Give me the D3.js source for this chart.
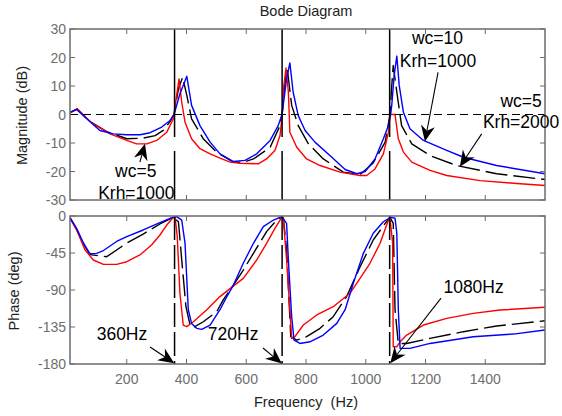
<!DOCTYPE html>
<html>
<head>
<meta charset="utf-8">
<script src="https://cdn.jsdelivr.net/npm/d3@7"></script>
<style>
  html, body { margin: 0; padding: 0; background: #fff; }
  svg { display: block; font-family: "Liberation Sans", Arial, sans-serif; }
</style>
</head>
<body>
<svg id="chart" width="562" height="416"></svg>
<script>
// ---------------- data ----------------
const xTicks = [200, 400, 600, 800, 1000, 1200, 1400];
const magTicks = [-30, -20, -10, 0, 10, 20, 30];
const phaseTicks = [-180, -135, -90, -45, 0];
const markerFreqs = [360, 720, 1080];

// [frequency Hz, magnitude dB]
const magRed = [[10,0.6],[34,2.0],[66,-1.3],[88,-3.3],[144,-6.8],[200,-9.1],[233,-10.3],[267,-10.3],[300,-9.1],[334,-6.2],[356,-1.5],[367,6.7],[375,12.5],[384,4.3],[395,-2.7],[417,-8.5],[445,-12.0],[479,-13.8],[512,-15.3],[546,-16.7],[579,-17.1],[640,-17.3],[668,-15.6],[696,-12.6],[713,-7.4],[720,-0.4],[726,10.2],[733,16.3],[741,7.8],[746,-6.2],[769,-11.5],[802,-15.6],[847,-17.9],[914,-20.2],[981,-21.4],[1003,-21.4],[1031,-19.1],[1059,-13.8],[1076,-6.2],[1081,0],[1098,0],[1109,-8.5],[1126,-13.2],[1154,-16.7],[1215,-19.6],[1271,-21.4],[1383,-23.2],[1494,-24.1],[1600,-24.9]];
const magBlack = [[10,0.6],[34,2.0],[77,-2.5],[133,-6.0],[200,-8.5],[255,-8.3],[295,-7.4],[322,-5.6],[345,-2.5],[358,0],[373,9.0],[387,13.1],[401,6.7],[417,-1.5],[456,-8.5],[501,-13.2],[557,-16.7],[590,-16.8],[624,-15.6],[680,-11.5],[713,-3.9],[720,0],[728,10],[737,16.3],[752,3.2],[774,-3.9],[808,-10.3],[858,-15.6],[925,-20.2],[981,-21.1],[1025,-17.0],[1065,-9.7],[1081,0],[1087,10],[1092,17.2],[1104,7.8],[1120,-3.9],[1154,-10.3],[1215,-14.4],[1304,-17.9],[1438,-20.8],[1600,-22.8]];
const magBlue = [[10,0.8],[32,1.75],[66,-1.5],[110,-5.6],[155,-6.8],[200,-7.1],[244,-7.1],[278,-6.4],[317,-4.4],[345,-2.1],[359,0.2],[378,7.3],[401,13.4],[417,3.2],[445,-3.9],[479,-9.7],[512,-13.8],[557,-16.5],[596,-16.1],[635,-13.8],[680,-9.1],[707,-3.9],[720,0.2],[735,12.5],[746,18.1],[757,7.8],[774,-0.4],[797,-5.6],[830,-9.7],[880,-14.4],[931,-19.3],[970,-20.8],[998,-20.0],[1031,-15.6],[1059,-8.5],[1076,-3.9],[1084,0.6],[1087,3.2],[1095,13.7],[1104,20.5],[1112,10.2],[1126,0.8],[1148,-5.0],[1193,-9.1],[1271,-12.6],[1327,-15.0],[1438,-17.9],[1600,-20.8]];

// [frequency Hz, phase deg]
const phRed = [[10,-2.8],[32,-17],[60,-41],[88,-53.5],[122,-58.8],[166,-58.8],[200,-55.6],[244,-47.4],[283,-35.3],[311,-23.1],[334,-11],[356,-1.6],[362,-2],[369,-25],[378,-94],[389,-132.6],[401,-134.6],[423,-128.6],[468,-114],[512,-98],[551,-86.8],[590,-75.8],[635,-53.5],[668,-33.2],[696,-15],[719,-1.6],[724,-2],[735,-53.5],[746,-114],[752,-148.8],[763,-146.8],[791,-132.6],[836,-120.4],[891,-110.3],[947,-94],[981,-75.8],[1014,-57.5],[1048,-33.2],[1076,-4.9],[1081,-2],[1090,-33],[1092,-159],[1104,-159],[1115,-153],[1137,-144.8],[1193,-132.6],[1271,-124.5],[1360,-118.4],[1449,-114.4],[1600,-111]];
const phBlack = [[10,-2],[32,-16],[60,-37],[77,-47],[133,-49.5],[200,-33],[255,-22],[311,-9.7],[356,-1.6],[373,-7],[384,-53.5],[398,-110],[412,-132.6],[423,-135.5],[456,-128.6],[501,-116.4],[523,-102],[557,-84],[590,-65.7],[624,-45.4],[668,-19],[707,-2.8],[724,-2],[735,-41],[749,-146.8],[769,-150.9],[802,-146.8],[847,-136.6],[891,-122.5],[936,-98],[981,-61.7],[1025,-29.2],[1065,-9],[1081,-1.6],[1092,-9],[1098,-114],[1109,-155],[1137,-155],[1215,-148.8],[1327,-140.7],[1438,-133.8],[1600,-127.4]];
const phBlue = [[10,-2],[32,-15],[55,-33],[77,-46],[99,-45.4],[122,-42],[166,-31],[200,-25],[255,-17],[311,-8],[345,-2.8],[367,-0.8],[384,-5],[395,-33],[406,-114],[417,-130.6],[434,-136.6],[451,-137.9],[479,-132.6],[512,-114],[535,-98],[557,-84],[590,-57.5],[624,-33.2],[657,-13],[691,-4.9],[719,-0.8],[735,-9],[741,-53.5],[752,-122.5],[760,-151],[780,-155],[813,-153],[858,-144.8],[903,-130.6],[931,-114],[958,-82],[992,-45.4],[1025,-21],[1059,-7],[1083,-1.6],[1098,-2.8],[1104,-21],[1109,-114],[1115,-161],[1148,-161],[1215,-155],[1360,-146.8],[1494,-143.6],[1600,-138.7]];

// annotations: text lines at [f, value], arrows [tailF, tailV, tipF, tipV]
const magNotes = [
  {lines: [["wc=5", 230, -22.1], ["Krh=1000", 232, -29.8]], arrow: [244, -16.7, 261, -10.3]},
  {lines: [["wc=10", 1240, 24.6], ["Krh=1000", 1242, 16.8]], arrow: [1242, 14.8, 1198, -9.5]},
  {lines: [["wc=5", 1520, 2.8], ["Krh=2000", 1520, -4.9]], arrow: [1388, -6.8, 1315, -18.3]}
];
const phaseNotes = [
  {lines: [["360Hz", 184, -150.9]], arrow: [278, -159.4, 359, -179]},
  {lines: [["720Hz", 556, -150.9]], arrow: [656, -160.6, 719, -179.5]},
  {lines: [["1080Hz", 1361, -93.7]], arrow: [1252, -99.8, 1082, -179]}
];

// ---------------- layout ----------------
const svg = d3.select("#chart");
const L = 70, R = 545;
const magBox = {top: 29, bottom: 200};
const phBox = {top: 216, bottom: 364};

const x = d3.scaleLinear().domain([10, 1600]).range([L, R]);
const yMag = d3.scaleLinear().domain([-30, 30]).range([magBox.bottom, magBox.top]);
const yPh = d3.scaleLinear().domain([-180, 0]).range([phBox.bottom, phBox.top]);

const frameColor = "#6b6b6b";
const tickColor = "#6e6e6e";

svg.append("text").attr("x", 306).attr("y", 16).attr("text-anchor", "middle")
  .attr("font-size", 14.5).attr("fill", "#222").text("Bode Diagram");

function drawPanel(id, box, y, yTickVals, series, showXLabels) {
  const g = svg.append("g");
  const defs = svg.append("defs");
  defs.append("clipPath").attr("id", id).append("rect")
    .attr("x", L).attr("y", box.top).attr("width", R - L).attr("height", box.bottom - box.top);

  // ticks (inward, mirrored)
  const tk = 5;
  yTickVals.forEach(v => {
    g.append("line").attr("x1", L).attr("x2", L + tk).attr("y1", y(v)).attr("y2", y(v))
      .attr("stroke", frameColor).attr("stroke-width", 1);
    g.append("line").attr("x1", R).attr("x2", R - tk).attr("y1", y(v)).attr("y2", y(v))
      .attr("stroke", frameColor).attr("stroke-width", 1);
    g.append("text").attr("x", L - 4).attr("y", y(v)).attr("dy", "0.36em")
      .attr("text-anchor", "end").attr("font-size", 14).attr("fill", tickColor).text(v);
  });
  xTicks.forEach(v => {
    g.append("line").attr("x1", x(v)).attr("x2", x(v)).attr("y1", box.bottom).attr("y2", box.bottom - tk)
      .attr("stroke", frameColor).attr("stroke-width", 1);
    g.append("line").attr("x1", x(v)).attr("x2", x(v)).attr("y1", box.top).attr("y2", box.top + tk)
      .attr("stroke", frameColor).attr("stroke-width", 1);
    if (showXLabels) {
      g.append("text").attr("x", x(v)).attr("y", box.bottom + 20).attr("text-anchor", "middle")
        .attr("font-size", 14).attr("fill", tickColor).text(v);
    }
  });

  const plot = g.append("g").attr("clip-path", `url(#${id})`);
  const line = d3.line().x(d => x(d[0])).y(d => y(d[1]));
  series.forEach(s => {
    plot.append("path").datum(s.data).attr("d", line).attr("fill", "none")
      .attr("stroke", s.color).attr("stroke-width", 1.4)
      .attr("stroke-dasharray", s.dash || null).attr("stroke-linejoin", "round");
  });
  g.append("rect").attr("x", L).attr("y", box.top).attr("width", R - L).attr("height", box.bottom - box.top)
    .attr("fill", "none").attr("stroke", frameColor).attr("stroke-width", 1.5);
  return plot;
}

const magPlot = drawPanel("clipMag", magBox, yMag, magTicks, [
  {data: magBlack, color: "#000", dash: "22,6"},
  {data: magRed, color: "#ff0000"},
  {data: magBlue, color: "#0000ff"}
], false);
// 0 dB reference line
magPlot.append("line").attr("x1", L).attr("x2", R).attr("y1", yMag(0)).attr("y2", yMag(0))
  .attr("stroke", "#000").attr("stroke-width", 1.2).attr("stroke-dasharray", "8,5");
markerFreqs.forEach(f => {
  magPlot.append("line").attr("x1", x(f)).attr("x2", x(f)).attr("y1", magBox.top).attr("y2", magBox.bottom)
    .attr("stroke", "#000").attr("stroke-width", 1.5).attr("stroke-dasharray", "108,14");
});

const phPlot = drawPanel("clipPh", phBox, yPh, phaseTicks, [
  {data: phBlack, color: "#000", dash: "22,6"},
  {data: phRed, color: "#ff0000"},
  {data: phBlue, color: "#0000ff"}
], true);
markerFreqs.forEach(f => {
  phPlot.append("line").attr("x1", x(f)).attr("x2", x(f)).attr("y1", phBox.top).attr("y2", phBox.bottom)
    .attr("stroke", "#000").attr("stroke-width", 1.5).attr("stroke-dasharray", "24,5");
});

// axis labels
svg.append("text").attr("transform", `translate(27,${(magBox.top + magBox.bottom) / 2 + 1}) rotate(-90)`)
  .attr("text-anchor", "middle").attr("font-size", 14.5).attr("fill", "#222").text("Magnitude (dB)");
svg.append("text").attr("transform", `translate(19,${(phBox.top + phBox.bottom) / 2 + 1}) rotate(-90)`)
  .attr("text-anchor", "middle").attr("font-size", 14.5).attr("fill", "#222").text("Phase (deg)");
svg.append("text").attr("x", 306).attr("y", 407).attr("text-anchor", "middle")
  .attr("font-size", 14.5).attr("fill", "#222").attr("xml:space", "preserve").text("Frequency  (Hz)");

// annotations
function arrow(x1, y1, x2, y2) {
  const ang = Math.atan2(y2 - y1, x2 - x1);
  const hl = 16, hw = 7, notch = 5;
  const ux = Math.cos(ang), uy = Math.sin(ang);
  const px = -uy, py = ux;
  const bx = x2 - ux * hl, by = y2 - uy * hl;
  const nx = x2 - ux * (hl - notch), ny = y2 - uy * (hl - notch);
  svg.append("line").attr("x1", x1).attr("y1", y1).attr("x2", nx).attr("y2", ny)
    .attr("stroke", "#000").attr("stroke-width", 1.1);
  svg.append("path")
    .attr("d", `M${x2},${y2}L${bx + px * hw},${by + py * hw}L${nx},${ny}L${bx - px * hw},${by - py * hw}Z`)
    .attr("fill", "#000");
}
function drawNotes(notes, y) {
  notes.forEach(n => {
    n.lines.forEach(([t, f, v]) => {
      svg.append("text").attr("x", x(f)).attr("y", y(v)).attr("text-anchor", "middle")
        .attr("font-size", 17.5).attr("fill", "#000").text(t);
    });
    const [tf, tv, hf, hv] = n.arrow;
    arrow(x(tf), y(tv), x(hf), y(hv));
  });
}
drawNotes(magNotes, yMag);
drawNotes(phaseNotes, yPh);
</script>
</body>
</html>
